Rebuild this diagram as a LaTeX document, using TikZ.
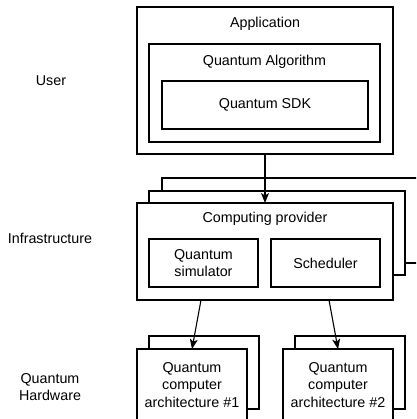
\documentclass[tikz,border=0pt]{standalone}
\usepackage{fontspec}
\setmainfont{Liberation Sans}
\usetikzlibrary{arrows.meta,calc}
\begin{document}
\begin{tikzpicture}[x=1pt,y=-1pt,
  box/.style={draw=black,line width=1.1pt,fill=white,inner sep=0pt,outer sep=0pt,rectangle},
  lbl/.style={font=\fontsize{14.3}{17.5}\selectfont,align=center,inner sep=0pt,text=black},
  conn/.style={draw=black,line width=1.1pt,-{Stealth[length=10pt,width=8pt,inset=2.5pt]}}]
\useasboundingbox (0,0) rectangle (416,419);
\clip (0,0) rectangle (416,419);
% User layer
\node[box,minimum width=256pt,minimum height=147pt] (app) at (265,80.5) {};
\node[lbl] (appt) at (265,24) {Application};
\node[box,minimum width=231pt,minimum height=98pt] (alg) at (264.5,93) {};
\node[lbl] (algt) at (264.5,62) {Quantum Algorithm};
\node[box,minimum width=206pt,minimum height=48pt] (sdk) at (265,105) {};
\node[lbl] (sdkt) at (265,105) {Quantum SDK};
% Infrastructure layer
\node[box,minimum width=256pt,minimum height=85pt] (far) at (290,220.5) {};
\node[box,minimum width=256pt,minimum height=84pt] (mid) at (277,233) {};
\node[box,minimum width=256pt,minimum height=97pt] (prov) at (265,251.5) {};
\node[lbl] (provt) at (265,219) {Computing provider};
\node[box,minimum width=109pt,minimum height=48pt] (sim) at (203.5,263) {};
\node[lbl] (simt) at (203.5,263) {Quantum\\simulator};
\node[box,minimum width=109pt,minimum height=48pt] (sched) at (325.5,263) {};
\node[lbl] (schedt) at (325.5,263) {Scheduler};
% Hardware layer
\node[box,minimum width=110pt,minimum height=73pt] (qc1b) at (204,372.5) {};
\node[box,minimum width=110pt,minimum height=73pt] (qc1) at (192,385.5) {};
\node[lbl] (qc1t) at (192,385) {Quantum\\computer\\architecture \#1};
\node[box,minimum width=110pt,minimum height=73pt] (qc2b) at (350,372.5) {};
\node[box,minimum width=110pt,minimum height=73pt] (qc2) at (338,385.5) {};
\node[lbl] (qc2t) at (338,385) {Quantum\\computer\\architecture \#2};
% Layer labels
\node[lbl] (user) at (51,81) {User};
\node[lbl] (infra) at (50,238) {Infrastructure};
\node[lbl] (hw) at (50,387) {Quantum\\Hardware};
% Connectors
\draw[conn] (app.south) -- (prov.north);
\draw[conn] ($(prov.south west)!0.25!(prov.south east)$) -- (qc1.north);
\draw[conn] ($(prov.south west)!0.75!(prov.south east)$) -- (qc2.north);
\end{tikzpicture}
\end{document}
